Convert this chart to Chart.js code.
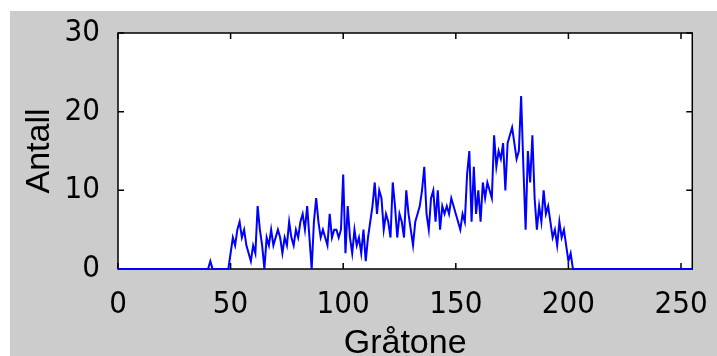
<!DOCTYPE html>
<html>
<head>
<meta charset="utf-8">
<script src="https://cdn.jsdelivr.net/npm/chart.js@4"></script>
<style>
  body { margin: 0; background: #fff; }
  canvas { display: block; }
</style>
</head>
<body>
<canvas id="hist" width="717" height="356"></canvas>
<script>
// histogram of grey levels 0..255 (one count per level)
const counts = [
    0, 0, 0, 0, 0, 0, 0, 0, 0, 0,
    0, 0, 0, 0, 0, 0, 0, 0, 0, 0,
    0, 0, 0, 0, 0, 0, 0, 0, 0, 0,
    0, 0, 0, 0, 0, 0, 0, 0, 0, 0,
    0, 1, 0, 0, 0, 0, 0, 0, 0, 0,
    2, 4, 3, 5, 6, 4, 5, 3, 2, 1,
    3, 2, 8, 5, 3, 0, 4, 3, 5, 3,
    4, 5, 4, 2, 4, 3, 6, 4, 3, 5,
    4, 6, 7, 5, 8, 4, 0, 6, 9, 6,
    4, 5, 4, 3, 7, 4, 5, 5, 4, 5,
    12, 2, 8, 4, 2, 5, 3, 4, 2, 5,
    1, 4, 6, 8, 11, 7, 10, 9, 5, 7,
    6, 4, 11, 8, 4, 7, 6, 4, 10, 7,
    5, 3, 6, 7, 8, 10, 13, 7, 5, 9,
    10, 6, 10, 5, 8, 7, 8, 7, 9, 8,
    7, 6, 5, 7, 6, 12, 15, 6, 13, 7,
    10, 6, 11, 9, 11, 10, 9, 17, 13, 15,
    14, 16, 10, 16, 17, 18, 16, 14, 15, 22,
    13, 5, 15, 11, 17, 9, 5, 8, 6, 10,
    7, 8, 6, 4, 5, 3, 6, 4, 5, 3,
    1, 2, 0, 0, 0, 0, 0, 0, 0, 0,
    0, 0, 0, 0, 0, 0, 0, 0, 0, 0,
    0, 0, 0, 0, 0, 0, 0, 0, 0, 0,
    0, 0, 0, 0, 0, 0, 0, 0, 0, 0,
    0, 0, 0, 0, 0, 0, 0, 0, 0, 0,
    0, 0, 0, 0, 0, 0
];
const xTicks = [0, 50, 100, 150, 200, 250];
const yTicks = [0, 10, 20, 30];

const points = counts.map((c, i) => ({ x: i, y: c }));

const tickFont = { family: '"Liberation Sans Narrow", "DejaVu Sans Condensed", Arial, sans-serif', size: 31 };
const titleFont = { family: 'Liberation Sans, Arial, sans-serif', size: 34, lineHeight: 0.7 };

// grey figure background with a white plot box
const backdrop = {
    id: 'backdrop',
    beforeDraw(chart) {
        const { ctx, chartArea: a } = chart;
        ctx.save();
        ctx.fillStyle = '#ffffff';
        ctx.fillRect(0, 0, chart.width, chart.height);
        ctx.fillStyle = '#cccccc';
        ctx.fillRect(10, 11, chart.width - 10, chart.height - 11);
        ctx.fillStyle = '#ffffff';
        ctx.fillRect(a.left, a.top, a.right - a.left, a.bottom - a.top);
        ctx.restore();
    }
};

// box around the axes with inward tick marks on every side
const frame = {
    id: 'frame',
    beforeDatasetsDraw(chart) {
        const { ctx, chartArea: a, scales: { x, y } } = chart;
        ctx.save();
        ctx.strokeStyle = '#000';
        ctx.lineWidth = 1.5;
        ctx.strokeRect(a.left, a.top, a.right - a.left, a.bottom - a.top);
        ctx.beginPath();
        x.ticks.forEach(t => {
            const px = x.getPixelForValue(t.value);
            ctx.moveTo(px, a.bottom); ctx.lineTo(px, a.bottom - 6);
            ctx.moveTo(px, a.top); ctx.lineTo(px, a.top + 6);
        });
        y.ticks.forEach(t => {
            const py = y.getPixelForValue(t.value);
            ctx.moveTo(a.left, py); ctx.lineTo(a.left + 6, py);
            ctx.moveTo(a.right, py); ctx.lineTo(a.right - 6, py);
        });
        ctx.stroke();
        ctx.restore();
    }
};

new Chart(document.getElementById('hist').getContext('2d'), {
    type: 'line',
    data: {
        datasets: [{
            data: points,
            borderColor: '#0000ff',
            borderWidth: 2,
            pointRadius: 0,
            tension: 0,
            clip: false
        }]
    },
    options: {
        responsive: false,
        animation: false,
        layout: { padding: { top: 33, right: 19, left: 0, bottom: 0 } },
        plugins: { legend: { display: false }, tooltip: { enabled: false } },
        scales: {
            x: {
                type: 'linear',
                min: 0,
                max: 255,
                afterFit: s => { s.height = 87; },
                afterBuildTicks: s => { s.ticks = xTicks.map(v => ({ value: v })); },
                grid: { display: false },
                border: { display: false },
                ticks: { color: '#000', font: tickFont, padding: 9, maxRotation: 0 },
                title: { display: true, text: 'Gråtone', color: '#000', font: titleFont, padding: 0 }
            },
            y: {
                min: 0,
                max: 30,
                afterFit: s => { s.width = 118; },
                afterBuildTicks: s => { s.ticks = yTicks.map(v => ({ value: v })); },
                grid: { display: false },
                border: { display: false },
                ticks: { color: '#000', font: tickFont, padding: 10 },
                title: { display: true, text: 'Antall', color: '#000', font: titleFont, padding: { top: 28, bottom: 0 } }
            }
        }
    },
    plugins: [backdrop, frame]
});
</script>
</body>
</html>
